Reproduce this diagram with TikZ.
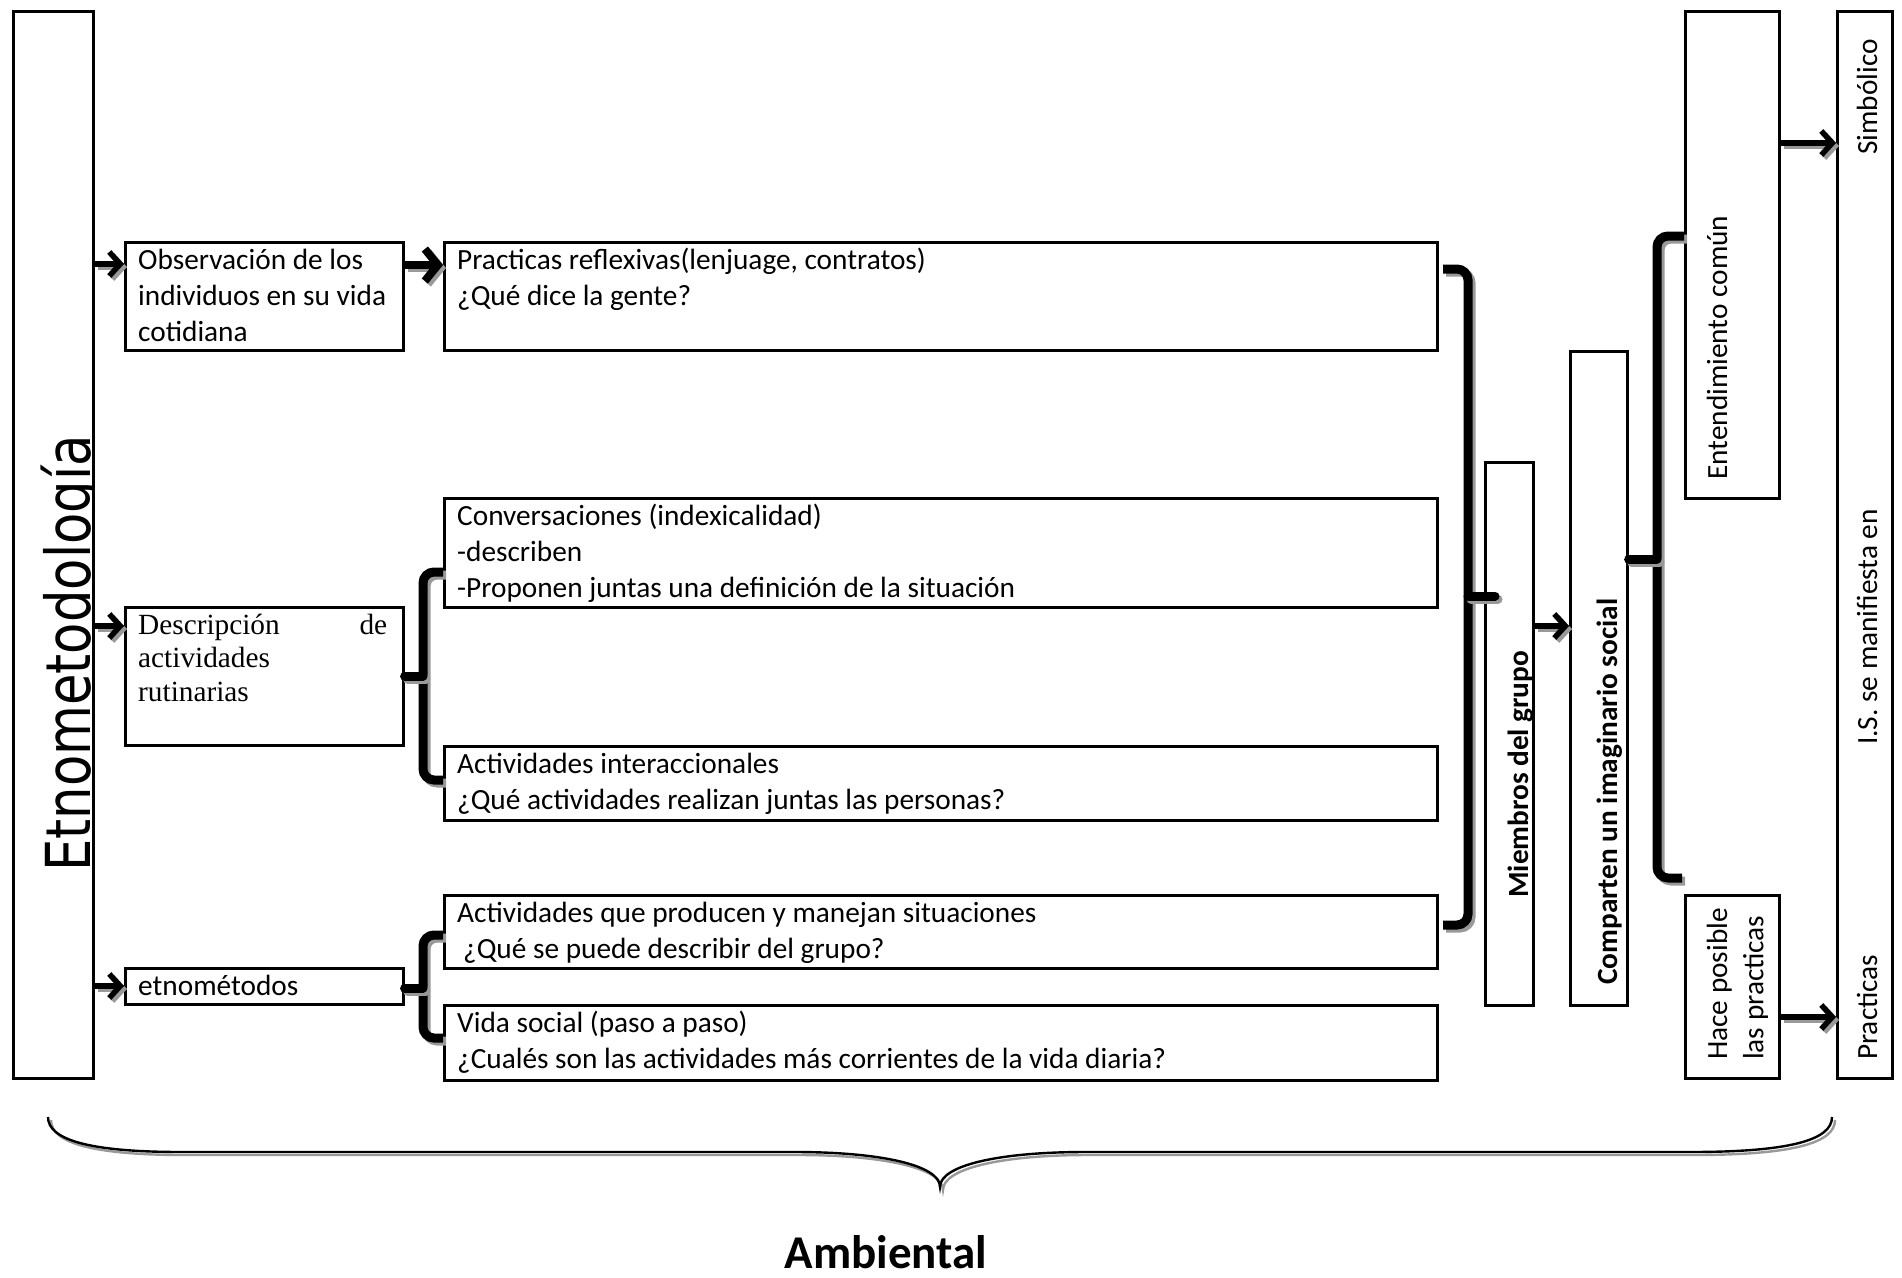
\documentclass[tikz,border=0pt]{standalone}
\usepackage{fontspec}
\setmainfont{Carlito}
\newfontfamily\serifTNR{Liberation Serif}
\newfontfamily\etnofont{DejaVu Sans}
\usetikzlibrary{arrows.meta,calc}
\newcommand\shdraw[2]{%
  \begin{scope}[transform canvas={shift={(3pt,-3pt)}}]\draw[#1,black!40] #2;\end{scope}%
  \draw[#1] #2;}
\begin{document}
\begin{tikzpicture}[x=1pt,y=-1pt,
  box/.style={draw, line width=2.6pt, inner sep=0pt, anchor=north west},
  txt/.style={inner sep=0pt, anchor=base west, font=\fontsize{29.3}{36.4}\selectfont},
  boldtxt/.style={txt, font=\bfseries\fontsize{29.3}{36.4}\selectfont},
  arr/.style={line width=5.5pt, -{Straight Barb[length=11pt,width=24pt]}},
  arrthick/.style={line width=8pt, -{Straight Barb[length=13pt,width=32pt]}},
  bracket/.style={line width=9pt, rounded corners=11pt},
  bracetip/.style={line width=9pt, line cap=round},
  bigbrace/.style={line width=2.4pt}
]
\useasboundingbox (0,0) rectangle (1902,1277);

% boxes
\node[box, minimum width=80pt,  minimum height=1067pt] (etno)  at (12,10) {};
\node[box, minimum width=278pt, minimum height=108pt]  (obs)   at (124,241) {};
\node[box, minimum width=993pt, minimum height=108pt]  (prac)  at (443,241) {};
\node[box, minimum width=993pt, minimum height=109pt]  (conv)  at (443,497) {};
\node[box, minimum width=278pt, minimum height=138pt]  (desc)  at (124,606) {};
\node[box, minimum width=993pt, minimum height=74pt]   (inter) at (443,745) {};
\node[box, minimum width=993pt, minimum height=73pt]   (prod)  at (443,894) {};
\node[box, minimum width=993pt, minimum height=75pt]   (vida)  at (443,1004) {};
\node[box, minimum width=278pt, minimum height=36pt]   (etnom) at (124,967) {};
\node[box, minimum width=48pt,  minimum height=543pt]  (miem)  at (1484,461) {};
\node[box, minimum width=57pt,  minimum height=654pt]  (comp)  at (1569,350) {};
\node[box, minimum width=94pt,  minimum height=487pt]  (ent)   at (1684,10) {};
\node[box, minimum width=94pt,  minimum height=183pt]  (hace)  at (1684,894) {};
\node[box, minimum width=55pt,  minimum height=1067pt] (ism)   at (1836,10) {};

% big rotated title, clipped by its box
\begin{scope}
  \clip (etno.north west) rectangle (etno.south east);
  \node[inner sep=0pt, anchor=base west, rotate=90, font=\etnofont\fontsize{62}{62}\selectfont] (etnot) at (90,872) {\scalebox{0.826}[1]{Etnometodología}};
\end{scope}

% texts
\node[txt] (obst) at (138,269) {\parbox[t]{300pt}{Observación de los\\individuos en su vida\\cotidiana}};
\node[txt] (pract) at (457,269) {\parbox[t]{900pt}{Practicas reflexivas(lenjuage, contratos)\\¿Qué dice la gente?}};
\node[txt] (convt) at (457,525) {\parbox[t]{900pt}{Conversaciones (indexicalidad)\\-describen\\-Proponen juntas una definición de la situación}};
\node[txt] (desct) at (138,634) {\parbox[t]{249pt}{\serifTNR\fontsize{29.3}{33.5}\selectfont Descripción\hfill de\\actividades\\rutinarias}};
\node[txt] (intert) at (457,773) {\parbox[t]{900pt}{Actividades interaccionales\\¿Qué actividades realizan juntas las personas?}};
\node[txt] (prodt) at (457,922) {\parbox[t]{900pt}{Actividades que producen y manejan situaciones\\\hspace*{6pt}¿Qué se puede describir del grupo?}};
\node[txt] (vidat) at (457,1032) {\parbox[t]{900pt}{Vida social (paso a paso)\\¿Cualés son las actividades más corrientes de la vida diaria?}};
\node[txt] (etnomt) at (138,995) {etnométodos};

\node[boldtxt, rotate=90] (miemt) at (1528,898) {Miembros del grupo};
\node[boldtxt, rotate=90] (compt) at (1617,985) {Comparten un imaginario social};
\node[txt, rotate=90] (entt) at (1727,480) {Entendimiento común};
\node[txt, rotate=90] (hacet) at (1727,1060) {\parbox[t]{200pt}{Hace posible\\las practicas}};
\node[txt, rotate=90] (simt) at (1877,155) {Simbólico};
\node[txt, rotate=90] (ist) at (1877,745) {I.S. se manifiesta en};
\node[txt, rotate=90] (pract2) at (1877,1060) {Practicas};

% arrows
\shdraw{arr}{(etno.east |- 0,264) -- (obs.west |- 0,264)}
\shdraw{arrthick}{(obs.east |- 0,265) -- (prac.west |- 0,265)}
\shdraw{arr}{(etno.east |- 0,626) -- (desc.west |- 0,626)}
\shdraw{arr}{(etno.east |- 0,986) -- (etnom.west |- 0,986)}
\shdraw{arr}{(miem.east |- 0,626) -- (comp.west |- 0,626)}
\shdraw{arr}{(ent.east |- 0,143) -- (ism.west |- 0,143)}
\shdraw{arr}{(hace.east |- 0,1017) -- (ism.west |- 0,1017)}

% brackets
\shdraw{bracket}{(conv.west |- 0,572) -- (423,572) -- (423,780) -- (inter.west |- 0,780)}
\shdraw{bracetip}{(423,676) -- (desc.east |- 0,676)}
\shdraw{bracket}{(prod.west |- 0,935) -- (423,935) -- (423,1038) -- (vida.west |- 0,1038)}
\shdraw{bracetip}{(423,988) -- (etnom.east |- 0,988)}
\shdraw{bracket}{(1443,269) -- (1468,269) -- (1468,925) -- (1443,925)}
\shdraw{bracetip}{(1468,596) -- (1495,596)}
\shdraw{bracket}{(ent.west |- 0,236) -- (1657,236) -- (1657,878) -- (1682,878)}
\shdraw{bracetip}{(1657,559) -- (comp.east |- 0,559)}

% bottom brace
\shdraw{bigbrace}{(48,1117) .. controls (48,1140) and (90,1152) .. (182,1152) -- (795,1152)
  .. controls (880,1152) and (940,1165) .. (940,1187)
  .. controls (940,1165) and (1000,1152) .. (1085,1152) -- (1690,1152)
  .. controls (1790,1152) and (1832,1140) .. (1832,1117)}
\node[inner sep=0pt, anchor=base, font=\bfseries\fontsize{47}{50}\selectfont] (amb) at (886,1268) {Ambiental};
\end{tikzpicture}
\end{document}
